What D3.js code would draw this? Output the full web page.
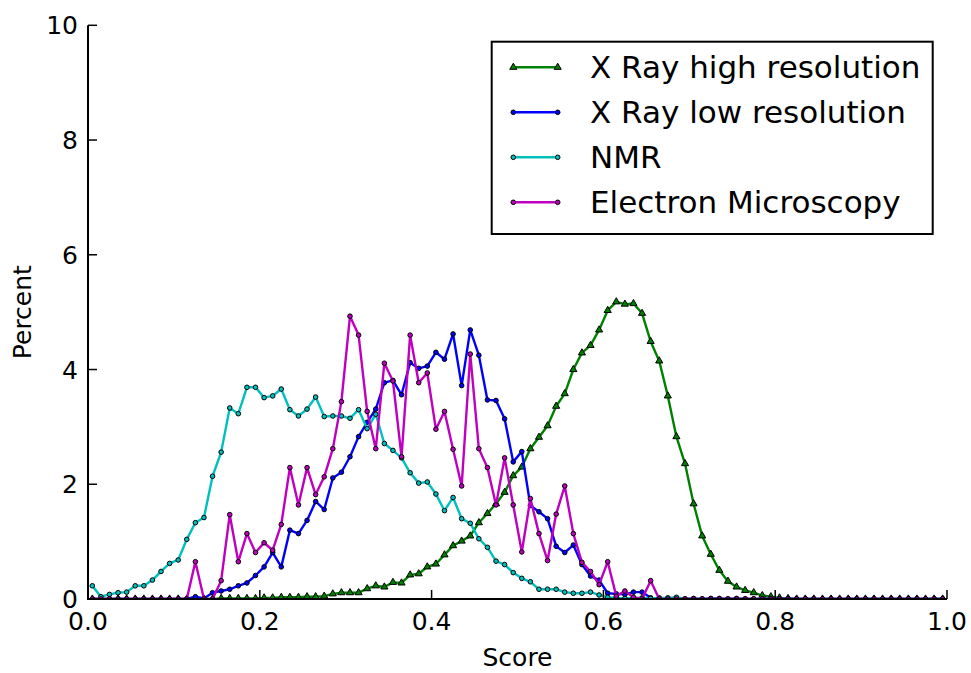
<!DOCTYPE html>
<html>
<head>
<meta charset="utf-8">
<script src="https://cdn.jsdelivr.net/npm/d3@7"></script>
<style>
  body { margin: 0; background: #fff; }
  text { font-family: "DejaVu Sans", sans-serif; fill: #000; }
</style>
</head>
<body>
<div class="view"></div>
<script>
var width = 971;
var height = 673;

// bin centres 0.005 ... 0.995 (100 bins of 0.01)
var bins = d3.range(100).map(function (i) { return +(0.005 + i * 0.01).toFixed(3); });

var xrayHigh = [
    0, 0, 0, 0, 0, 0, 0, 0, 0, 0,
    0, 0, 0, 0, 0, 0.01, 0.01, 0.01, 0.01, 0.01,
    0.02, 0.02, 0.03, 0.03, 0.03, 0.04, 0.04, 0.05, 0.09, 0.11,
    0.11, 0.11, 0.18, 0.23, 0.21, 0.29, 0.28, 0.42, 0.44, 0.56,
    0.61, 0.77, 0.93, 1.01, 1.10, 1.33, 1.49, 1.66, 1.86, 2.15,
    2.30, 2.62, 2.82, 3.02, 3.36, 3.58, 4.00, 4.29, 4.42, 4.69,
    5.03, 5.18, 5.14, 5.15, 4.98, 4.49, 4.15, 3.54, 2.83, 2.36,
    1.66, 1.10, 0.78, 0.50, 0.31, 0.21, 0.15, 0.11, 0.06, 0.04,
    0.02, 0.01, 0, 0, 0, 0, 0, 0, 0, 0,
    0, 0, 0, 0, 0, 0, 0, 0, 0, 0
];

var xrayLow = [
    0, 0, 0, 0, 0, 0, 0, 0, 0, 0,
    0, 0, 0.04, 0.01, 0.11, 0.14, 0.17, 0.23, 0.28, 0.41,
    0.56, 0.81, 0.56, 1.20, 1.14, 1.37, 1.70, 1.56, 2.11, 2.21,
    2.48, 2.83, 3.08, 3.31, 3.77, 3.81, 3.56, 4.12, 4.02, 4.06,
    4.30, 4.18, 4.62, 3.72, 4.69, 4.25, 3.47, 3.46, 3.14, 2.39,
    2.57, 1.63, 1.52, 1.40, 0.92, 0.81, 0.94, 0.60, 0.40, 0.33,
    0.10, 0.09, 0.08, 0.12, 0.12, 0.02, 0.01, 0, 0, 0,
    0.01, 0, 0.01, 0.01, 0, 0.01, 0, 0, 0, 0,
    0, 0, 0, 0, 0, 0, 0, 0, 0, 0,
    0, 0, 0, 0, 0, 0, 0, 0, 0, 0
];

var nmr = [
    0.23, 0.04, 0.08, 0.11, 0.12, 0.23, 0.23, 0.33, 0.48, 0.62,
    0.68, 1.04, 1.33, 1.42, 2.14, 2.56, 3.33, 3.23, 3.69, 3.69,
    3.51, 3.54, 3.66, 3.30, 3.19, 3.31, 3.52, 3.18, 3.19, 3.19,
    3.15, 3.30, 2.97, 3.22, 2.71, 2.59, 2.46, 2.20, 2.02, 2.04,
    1.83, 1.54, 1.77, 1.40, 1.32, 1.05, 0.90, 0.66, 0.60, 0.46,
    0.36, 0.30, 0.17, 0.17, 0.17, 0.12, 0.10, 0.10, 0.12, 0.07,
    0.03, 0.02, 0.01, 0.02, 0.02, 0.01, 0.02, 0.02, 0.03, 0,
    0, 0, 0, 0, 0, 0, 0, 0, 0, 0,
    0, 0, 0, 0, 0, 0, 0, 0, 0, 0,
    0, 0, 0, 0, 0, 0, 0, 0, 0, 0
];

var electron = [
    0, 0, 0, 0, 0, 0, 0, 0, 0, 0,
    0, 0, 0.65, 0, 0, 0.32, 1.47, 0.65, 1.14, 0.81,
    0.98, 0.85, 1.30, 2.29, 1.64, 2.29, 1.82, 2.13, 2.62, 3.44,
    4.93, 4.60, 3.27, 2.62, 4.11, 3.80, 2.48, 4.60, 3.77, 3.94,
    2.96, 3.27, 2.61, 1.97, 4.27, 2.62, 2.29, 1.64, 2.46, 1.64,
    0.82, 1.75, 1.14, 0.67, 1.48, 1.97, 1.14, 0.64, 0.48, 0.25,
    0.65, 0.05, 0.14, 0.03, 0, 0.32, 0, 0, 0, 0,
    0, 0, 0, 0, 0, 0, 0, 0, 0, 0,
    0, 0, 0, 0, 0, 0, 0, 0, 0, 0,
    0, 0, 0, 0, 0, 0, 0, 0, 0, 0
];

var seriesNames = ["X Ray high resolution", "X Ray low resolution", "NMR", "Electron Microscopy"];
var seriesValues = [xrayHigh, xrayLow, nmr, electron];
var seriesColors = ["#008000", "#0000ff", "#00bfbf", "#bf00bf"];
var seriesMarkers = ["triangle", "circle", "circle", "circle"];

var xTicks = [0, 0.2, 0.4, 0.6, 0.8, 1.0];
var yTicks = [0, 2, 4, 6, 8, 10];

var plot = { left: 88, right: 947, top: 25.3, bottom: 599 };

var svg = d3.select(".view")
    .append("svg")
    .attr("width", width)
    .attr("height", height);

var x = d3.scaleLinear()
    .domain([0, 1])
    .range([plot.left, plot.right]);

var y = d3.scaleLinear()
    .domain([0, 10])
    .range([plot.bottom, plot.top]);

svg.append("defs").append("clipPath")
    .attr("id", "plot-clip")
    .append("rect")
    .attr("x", plot.left)
    .attr("y", plot.top)
    .attr("width", plot.right - plot.left)
    .attr("height", plot.bottom - plot.top);

var line = d3.line()
    .x(function (d) { return x(d[0]); })
    .y(function (d) { return y(d[1]); });

var tri = d3.symbol().type(d3.symbolTriangle).size(22);

function drawMarker(sel, kind, color) {
    if (kind == "triangle") {
        sel.append("path")
            .attr("d", tri)
            .attr("fill", color)
            .attr("stroke", "#000")
            .attr("stroke-width", 1);
    } else {
        sel.append("circle")
            .attr("r", 2.3)
            .attr("fill", color)
            .attr("stroke", "#000")
            .attr("stroke-width", 1);
    }
}

var plotArea = svg.append("g").attr("clip-path", "url(#plot-clip)");

seriesValues.forEach(function (vals, k) {
    var pts = bins.map(function (b, i) { return [b, vals[i]]; });

    plotArea.append("path")
        .datum(pts)
        .attr("fill", "none")
        .attr("stroke", seriesColors[k])
        .attr("stroke-width", 2.4)
        .attr("stroke-linejoin", "round")
        .attr("d", line);

    plotArea.append("g")
        .selectAll("g")
        .data(pts)
        .enter().append("g")
        .attr("transform", function (d) { return "translate(" + x(d[0]) + "," + y(d[1]) + ")"; })
        .each(function () { drawMarker(d3.select(this), seriesMarkers[k], seriesColors[k]); });
});

// ticks (inward) and labels
var axes = svg.append("g");

axes.selectAll(".xtick")
    .data(xTicks)
    .enter().append("line")
    .attr("x1", function (d) { return x(d); })
    .attr("x2", function (d) { return x(d); })
    .attr("y1", plot.bottom)
    .attr("y2", plot.bottom - 9)
    .attr("stroke", "#000")
    .attr("stroke-width", 1.5);

axes.selectAll(".xlab")
    .data(xTicks)
    .enter().append("text")
    .attr("x", function (d) { return x(d); })
    .attr("y", 630)
    .attr("text-anchor", "middle")
    .attr("font-size", 25)
    .text(function (d) { return d3.format(".1f")(d); });

axes.selectAll(".ytick")
    .data(yTicks)
    .enter().append("line")
    .attr("x1", plot.left)
    .attr("x2", plot.left + 9)
    .attr("y1", function (d) { return y(d); })
    .attr("y2", function (d) { return y(d); })
    .attr("stroke", "#000")
    .attr("stroke-width", 1.5);

axes.selectAll(".ylab")
    .data(yTicks)
    .enter().append("text")
    .attr("x", 78)
    .attr("y", function (d) { return y(d) + 9; })
    .attr("text-anchor", "end")
    .attr("font-size", 25)
    .text(function (d) { return d; });

// spines: left and bottom only
axes.append("line")
    .attr("x1", plot.left).attr("x2", plot.left)
    .attr("y1", plot.top).attr("y2", plot.bottom + 1)
    .attr("stroke", "#000").attr("stroke-width", 2);

axes.append("line")
    .attr("x1", plot.left - 1).attr("x2", plot.right)
    .attr("y1", plot.bottom).attr("y2", plot.bottom)
    .attr("stroke", "#000").attr("stroke-width", 2);

svg.append("text")
    .attr("x", (plot.left + plot.right) / 2)
    .attr("y", 666)
    .attr("text-anchor", "middle")
    .attr("font-size", 25)
    .text("Score");

svg.append("text")
    .attr("transform", "translate(31," + ((plot.top + plot.bottom) / 2) + ") rotate(-90)")
    .attr("text-anchor", "middle")
    .attr("font-size", 25)
    .text("Percent");

// legend
var legend = svg.append("g");

legend.append("rect")
    .attr("x", 491.7)
    .attr("y", 41.7)
    .attr("width", 441)
    .attr("height", 192.3)
    .attr("fill", "#fff")
    .attr("stroke", "#000")
    .attr("stroke-width", 2);

var rows = legend.selectAll(".row")
    .data(seriesNames)
    .enter().append("g")
    .attr("transform", function (d, i) { return "translate(0," + (67.3 + i * 45) + ")"; });

rows.append("line")
    .attr("x1", 513.3)
    .attr("x2", 557.7)
    .attr("y1", 0)
    .attr("y2", 0)
    .attr("stroke", function (d, i) { return seriesColors[i]; })
    .attr("stroke-width", 2.4);

rows.each(function (d, i) {
    var r = d3.select(this);
    [513.3, 557.7].forEach(function (px) {
        drawMarker(r.append("g").attr("transform", "translate(" + px + ",0)"), seriesMarkers[i], seriesColors[i]);
    });
});

rows.append("text")
    .attr("x", 590)
    .attr("y", 11)
    .attr("font-size", 31)
    .text(function (d) { return d; });
</script>
</body>
</html>
